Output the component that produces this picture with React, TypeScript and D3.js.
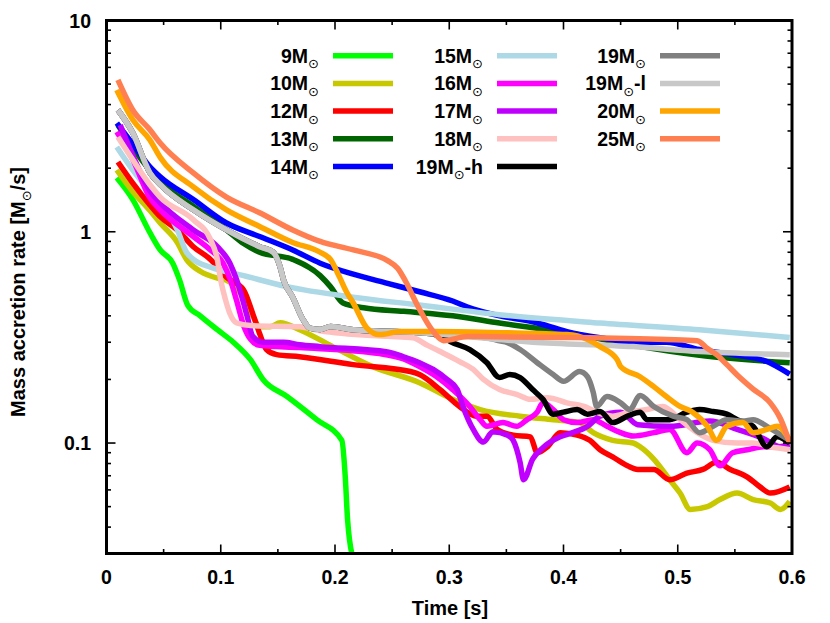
import React from 'react';
import * as d3 from 'd3';

type Pt = [number, number];

const xTickValues = [0, 0.1, 0.2, 0.3, 0.4, 0.5, 0.6];
const xTickLabels = ['0', '0.1', '0.2', '0.3', '0.4', '0.5', '0.6'];
const xMinorTicks = [0.05, 0.15, 0.25, 0.35, 0.45, 0.55];
const yTickValues = [0.1, 1, 10];
const yTickLabels = ['0.1', '1', '10'];
const yMinorTicks = [0.04, 0.05, 0.06, 0.07, 0.08, 0.09, 0.2, 0.3, 0.4, 0.5, 0.6, 0.7, 0.8, 0.9, 2, 3, 4, 5, 6, 7, 8, 9];

const m9: Pt[] = [[0.009,1.80],[0.023,1.42],[0.038,0.99],[0.047,0.82],[0.058,0.71],[0.064,0.59],[0.071,0.45],[0.082,0.40],[0.097,0.344],[0.111,0.30],[0.126,0.248],[0.137,0.20],[0.158,0.166],[0.184,0.129],[0.206,0.103],[0.209,0.069],[0.211,0.0435],[0.216,0.028]];

const m10: Pt[] = [[0.009,1.96],[0.023,1.55],[0.038,1.26],[0.047,1.10],[0.062,0.89],[0.070,0.74],[0.082,0.65],[0.099,0.60],[0.105,0.59],[0.117,0.515],[0.128,0.40],[0.134,0.355],[0.143,0.355],[0.152,0.371],[0.169,0.344],[0.198,0.286],[0.233,0.230],[0.274,0.193],[0.303,0.161],[0.327,0.144],[0.362,0.134],[0.391,0.129],[0.414,0.125],[0.426,0.112],[0.443,0.103],[0.461,0.100],[0.467,0.096],[0.479,0.084],[0.493,0.067],[0.502,0.058],[0.511,0.0485],[0.526,0.050],[0.537,0.054],[0.552,0.058],[0.566,0.054],[0.581,0.052],[0.590,0.0485],[0.598,0.053]];

const m12: Pt[] = [[0.010,2.14],[0.023,1.70],[0.038,1.34],[0.047,1.18],[0.062,1.02],[0.076,0.85],[0.091,0.74],[0.105,0.61],[0.120,0.53],[0.128,0.41],[0.134,0.33],[0.140,0.277],[0.149,0.262],[0.169,0.256],[0.216,0.235],[0.266,0.218],[0.274,0.211],[0.292,0.179],[0.309,0.149],[0.324,0.134],[0.333,0.134],[0.342,0.116],[0.356,0.109],[0.371,0.107],[0.377,0.090],[0.386,0.096],[0.397,0.112],[0.412,0.109],[0.423,0.103],[0.432,0.093],[0.443,0.086],[0.456,0.078],[0.465,0.075],[0.479,0.075],[0.493,0.067],[0.508,0.072],[0.522,0.075],[0.534,0.081],[0.546,0.075],[0.561,0.069],[0.572,0.062],[0.581,0.058],[0.598,0.062]];

const m13: Pt[] = [[0.010,3.2],[0.023,2.5],[0.047,1.72],[0.076,1.32],[0.105,1.02],[0.120,0.88],[0.134,0.80],[0.163,0.74],[0.187,0.62],[0.196,0.55],[0.207,0.46],[0.225,0.437],[0.260,0.42],[0.303,0.40],[0.344,0.37],[0.403,0.333],[0.461,0.29],[0.519,0.26],[0.598,0.24]];

const m14: Pt[] = [[0.009,3.27],[0.023,2.6],[0.038,2.03],[0.047,1.82],[0.076,1.42],[0.105,1.10],[0.134,0.95],[0.163,0.82],[0.187,0.71],[0.216,0.63],[0.246,0.57],[0.274,0.52],[0.303,0.47],[0.316,0.44],[0.344,0.40],[0.373,0.375],[0.403,0.337],[0.432,0.315],[0.461,0.30],[0.490,0.30],[0.519,0.277],[0.548,0.262],[0.578,0.243],[0.590,0.225],[0.598,0.212]];

const m15: Pt[] = [[0.009,2.52],[0.023,1.96],[0.038,1.55],[0.047,1.35],[0.056,1.18],[0.062,1.02],[0.070,0.80],[0.076,0.74],[0.091,0.68],[0.120,0.62],[0.158,0.55],[0.216,0.49],[0.274,0.45],[0.344,0.405],[0.432,0.37],[0.519,0.344],[0.598,0.316]];

const m16: Pt[] = [[0.009,2.97],[0.023,2.2],[0.038,1.45],[0.047,1.27],[0.076,0.95],[0.091,0.82],[0.102,0.71],[0.108,0.60],[0.114,0.47],[0.120,0.36],[0.126,0.31],[0.134,0.29],[0.169,0.283],[0.239,0.265],[0.260,0.25],[0.274,0.23],[0.289,0.206],[0.303,0.179],[0.318,0.149],[0.327,0.129],[0.333,0.120],[0.347,0.125],[0.359,0.120],[0.368,0.129],[0.377,0.140],[0.382,0.155],[0.391,0.144],[0.400,0.129],[0.412,0.125],[0.426,0.129],[0.438,0.120],[0.450,0.112],[0.461,0.108],[0.479,0.112],[0.493,0.116],[0.508,0.090],[0.517,0.100],[0.528,0.093],[0.537,0.078],[0.548,0.090],[0.561,0.093],[0.575,0.096],[0.587,0.096],[0.598,0.098]];

const m17: Pt[] = [[0.012,3.2],[0.023,2.3],[0.038,1.56],[0.047,1.37],[0.076,1.02],[0.097,0.85],[0.108,0.71],[0.114,0.59],[0.119,0.48],[0.123,0.40],[0.128,0.32],[0.137,0.30],[0.155,0.30],[0.169,0.292],[0.187,0.286],[0.246,0.27],[0.260,0.256],[0.274,0.240],[0.286,0.223],[0.298,0.200],[0.307,0.179],[0.312,0.149],[0.321,0.116],[0.330,0.101],[0.338,0.113],[0.351,0.109],[0.356,0.103],[0.362,0.081],[0.365,0.067],[0.373,0.084],[0.382,0.095],[0.397,0.107],[0.408,0.112],[0.421,0.120],[0.432,0.134],[0.450,0.140],[0.465,0.122],[0.493,0.120],[0.528,0.127],[0.552,0.116],[0.575,0.105],[0.590,0.096],[0.598,0.096]];

const m18: Pt[] = [[0.010,2.81],[0.023,2.19],[0.038,1.67],[0.047,1.46],[0.076,1.14],[0.091,0.92],[0.097,0.74],[0.100,0.59],[0.104,0.48],[0.108,0.41],[0.114,0.37],[0.126,0.36],[0.169,0.355],[0.187,0.34],[0.246,0.32],[0.268,0.315],[0.281,0.29],[0.292,0.271],[0.309,0.243],[0.321,0.223],[0.330,0.200],[0.344,0.179],[0.359,0.170],[0.371,0.161],[0.386,0.164],[0.403,0.155],[0.421,0.147],[0.429,0.140],[0.443,0.134],[0.458,0.140],[0.473,0.144],[0.487,0.149],[0.502,0.129],[0.517,0.112],[0.531,0.103],[0.552,0.100],[0.566,0.100],[0.581,0.096],[0.598,0.093]];

// 19M runs share the early evolution
const m19Shared: Pt[] = [[0.010,3.77],[0.023,2.94],[0.038,1.90],[0.047,1.67],[0.076,1.27],[0.105,1.02],[0.134,0.85],[0.146,0.80],[0.152,0.68],[0.155,0.59],[0.163,0.49],[0.172,0.384],[0.178,0.35],[0.187,0.345],[0.196,0.356],[0.216,0.344],[0.274,0.333]];

const m19lTail: Pt[] = [[0.373,0.30],[0.461,0.286],[0.519,0.271],[0.598,0.262]];

const m19hTail: Pt[] = [[0.286,0.328],[0.298,0.309],[0.301,0.302],[0.318,0.277],[0.333,0.240],[0.344,0.204],[0.353,0.211],[0.362,0.204],[0.373,0.179],[0.382,0.161],[0.391,0.137],[0.400,0.140],[0.412,0.144],[0.421,0.137],[0.432,0.141],[0.443,0.125],[0.456,0.134],[0.467,0.140],[0.473,0.129],[0.493,0.129],[0.508,0.140],[0.519,0.144],[0.531,0.141],[0.543,0.137],[0.552,0.129],[0.566,0.120],[0.578,0.096],[0.587,0.107],[0.598,0.100]];

const m19Tail: Pt[] = [[0.336,0.312],[0.344,0.305],[0.351,0.299],[0.362,0.277],[0.377,0.240],[0.391,0.211],[0.400,0.196],[0.414,0.218],[0.421,0.206],[0.426,0.174],[0.429,0.149],[0.438,0.166],[0.450,0.155],[0.458,0.144],[0.467,0.168],[0.479,0.149],[0.496,0.134],[0.508,0.129],[0.519,0.112],[0.531,0.120],[0.543,0.129],[0.557,0.127],[0.566,0.129],[0.578,0.120],[0.587,0.112],[0.598,0.103]];

const m20: Pt[] = [[0.009,4.69],[0.023,3.39],[0.038,2.72],[0.047,2.25],[0.076,1.63],[0.105,1.27],[0.134,1.06],[0.163,0.89],[0.187,0.80],[0.196,0.74],[0.204,0.61],[0.210,0.52],[0.216,0.46],[0.228,0.35],[0.239,0.326],[0.257,0.337],[0.286,0.337],[0.344,0.333],[0.403,0.326],[0.421,0.309],[0.432,0.286],[0.447,0.248],[0.450,0.230],[0.467,0.206],[0.479,0.185],[0.490,0.166],[0.502,0.149],[0.513,0.140],[0.526,0.120],[0.534,0.103],[0.543,0.120],[0.557,0.125],[0.566,0.112],[0.578,0.116],[0.587,0.120],[0.598,0.103]];

const m25: Pt[] = [[0.010,5.23],[0.023,3.77],[0.038,3.04],[0.047,2.63],[0.076,1.90],[0.105,1.46],[0.134,1.23],[0.163,1.02],[0.187,0.90],[0.216,0.82],[0.246,0.73],[0.255,0.67],[0.262,0.58],[0.272,0.45],[0.286,0.337],[0.295,0.305],[0.316,0.319],[0.403,0.316],[0.490,0.309],[0.517,0.305],[0.526,0.28],[0.534,0.262],[0.543,0.235],[0.552,0.21],[0.566,0.18],[0.581,0.155],[0.590,0.13],[0.598,0.10]];

const seriesNames = ['9', '10', '12', '13', '14', '15', '16', '17', '18', '19', '19', '19', '20', '25'];
const seriesSuffix = ['', '', '', '', '', '', '', '', '', '-h', '', '-l', '', ''];
const seriesColors = ['#00ff00', '#c8c800', '#ff0000', '#006400', '#0000ff', '#add8e6', '#ff00ff', '#c000ff', '#ffc0c0', '#000000', '#808080', '#c8c8c8', '#ffa500', '#ff7f50'];
const seriesData: Pt[][] = [m9, m10, m12, m13, m14, m15, m16, m17, m18,
  [...m19Shared, ...m19hTail], [...m19Shared, ...m19Tail], [...m19Shared, ...m19lTail], m20, m25];

const W = 830, H = 623;
const X0 = 106.5, X1 = 792, YT = 20.5, YB = 553.5;
const FONT = '"Liberation Sans", Arial, Helvetica, sans-serif';
const SUNFONT = '"DejaVu Sans", sans-serif';

const x = d3.scaleLinear().domain([0, 0.6]).range([X0, X1]);
const y = d3.scaleLog().domain([0.03, 10]).range([YB, YT]);

const lineGen = d3.line<Pt>().x(d => x(d[0])).y(d => y(d[1])).curve(d3.curveMonotoneX);

const legendLineStart = [333, 497, 660];
const legendLineLen = 60;
const legendRowY = [55.7, 83.4, 111.1, 138.8, 166.5];

export default function App() {
  const major = 9, minor = 4.5;
  const legendItems = seriesNames.map((n, i) => {
    const col = i < 5 ? 0 : i < 10 ? 1 : 2;
    const row = i < 5 ? i : i < 10 ? i - 5 : i - 10;
    return { n, suf: seriesSuffix[i], color: seriesColors[i], col, row };
  });
  return (
    <svg width={W} height={H} style={{ position: 'absolute', left: 0, top: 0, background: '#fff' }}
      xmlns="http://www.w3.org/2000/svg">
      <rect x={0} y={0} width={W} height={H} fill="#fff" />
      <defs>
        <clipPath id="plotclip">
          <rect x={X0} y={YT} width={X1 - X0} height={YB - YT} />
        </clipPath>
      </defs>

      <g clipPath="url(#plotclip)">
        {seriesData.map((d, i) => (
          <path key={i} d={lineGen(d) || ''} fill="none" stroke={seriesColors[i]}
            strokeWidth={5.5} strokeLinejoin="round" strokeLinecap="butt" />
        ))}
      </g>

      {legendItems.map((it, i) => {
        const lx = legendLineStart[it.col];
        const ly = legendRowY[it.row];
        return (
          <g key={'lg' + i}>
            <line x1={lx} x2={lx + legendLineLen} y1={ly} y2={ly} stroke={it.color} strokeWidth={5.5} />
            <text x={lx - 14} y={ly + 7} textAnchor="end" fontFamily={FONT} fontWeight="bold" fontSize={19.5} fill="#000">
              <tspan>{it.n + 'M'}</tspan>
              <tspan dy={5.5} fontFamily={SUNFONT} fontWeight="normal" fontSize={13}>⊙</tspan>
              {it.suf ? <tspan dy={-5.5}>{it.suf}</tspan> : null}
            </text>
          </g>
        );
      })}

      <g stroke="#000" strokeWidth={1.6}>
        {xTickValues.map((t, i) => (
          <g key={'xt' + i}>
            <line x1={x(t)} x2={x(t)} y1={YB} y2={YB - major} />
            <line x1={x(t)} x2={x(t)} y1={YT} y2={YT + major} />
          </g>
        ))}
        {xMinorTicks.map((t, i) => (
          <g key={'xm' + i}>
            <line x1={x(t)} x2={x(t)} y1={YB} y2={YB - minor} />
            <line x1={x(t)} x2={x(t)} y1={YT} y2={YT + minor} />
          </g>
        ))}
        {yTickValues.map((v, i) => (
          <g key={'yt' + i}>
            <line x1={X0} x2={X0 + major} y1={y(v)} y2={y(v)} />
            <line x1={X1} x2={X1 - major} y1={y(v)} y2={y(v)} />
          </g>
        ))}
        {yMinorTicks.map((v, i) => (
          <g key={'ym' + i}>
            <line x1={X0} x2={X0 + minor} y1={y(v)} y2={y(v)} />
            <line x1={X1} x2={X1 - minor} y1={y(v)} y2={y(v)} />
          </g>
        ))}
      </g>

      <rect x={X0} y={YT} width={X1 - X0} height={YB - YT} fill="none" stroke="#000" strokeWidth={3} />

      {xTickValues.map((t, i) => (
        <text key={'xl' + i} x={x(t)} y={584} textAnchor="middle" fontFamily={FONT} fontWeight="bold" fontSize={19.5} fill="#000">
          {xTickLabels[i]}
        </text>
      ))}
      {yTickValues.map((v, i) => (
        <text key={'yl' + i} x={91} y={y(v) + 7} textAnchor="end" fontFamily={FONT} fontWeight="bold" fontSize={19.5} fill="#000">
          {yTickLabels[i]}
        </text>
      ))}

      <text x={450} y={615} textAnchor="middle" fontFamily={FONT} fontWeight="bold" fontSize={20} fill="#000">Time [s]</text>
      <text transform="translate(25,292) rotate(-90)" textAnchor="middle" fontFamily={FONT} fontWeight="bold" fontSize={20} fill="#000">
        <tspan>Mass accretion rate [M</tspan>
        <tspan dy={5.5} fontFamily={SUNFONT} fontWeight="normal" fontSize={13}>⊙</tspan>
        <tspan dy={-5.5}>/s]</tspan>
      </text>
    </svg>
  );
}
